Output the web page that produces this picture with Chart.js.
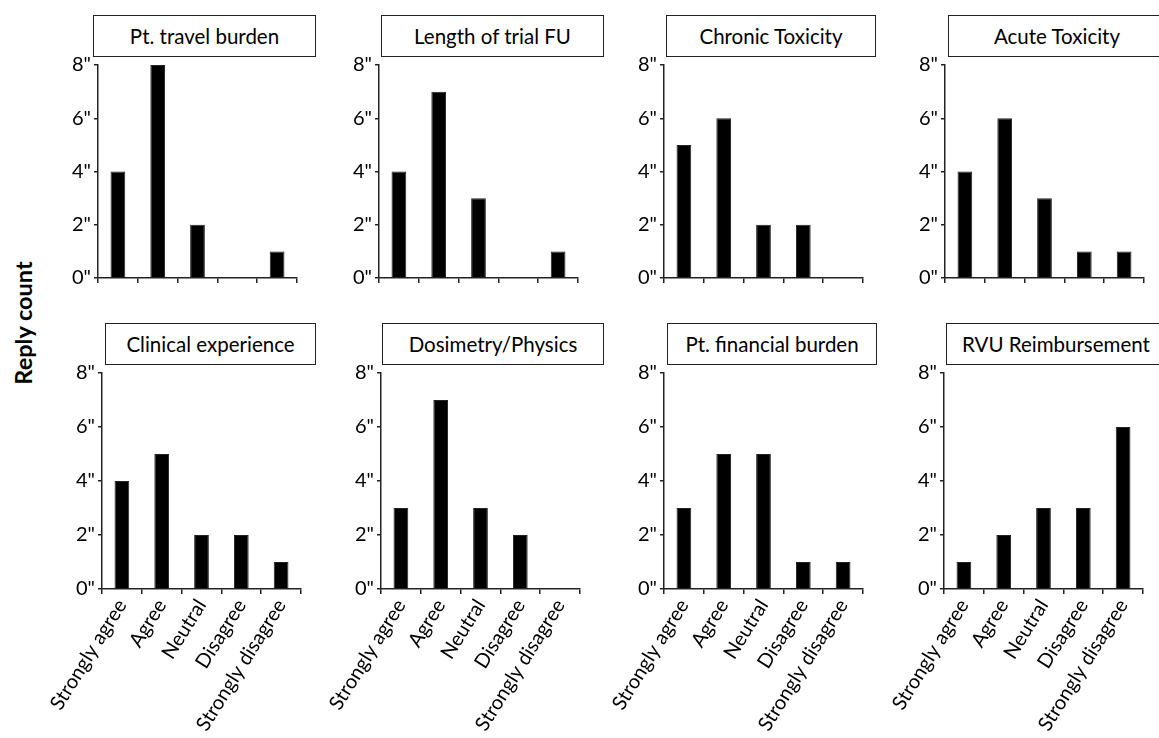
<!DOCTYPE html>
<html>
<head>
<meta charset="utf-8">
<script src="https://cdn.jsdelivr.net/npm/chart.js@4/dist/chart.umd.min.js"></script>
<style>
  html, body { margin: 0; padding: 0; background: #fff; }
  body { width: 1159px; height: 738px; position: relative; overflow: hidden; font-family: Lato, "Open Sans", sans-serif; }
  canvas { position: absolute; }
  .tbox { position: absolute; box-sizing: border-box; border: 1.5px solid #222; background: #fff;
          display: flex; align-items: center; justify-content: center; font-size: 20.5px; color: #000; white-space: nowrap; }
  #ylab { position: absolute; left: 23px; top: 323px; transform: translate(-50%, -50%) rotate(-90deg);
          font-weight: bold; font-size: 23.5px; color: #000; white-space: nowrap; }
</style>
</head>
<body>
<div id="ylab">Reply count</div>
<script>
// ---- data ----
const categories = ["Strongly agree", "Agree", "Neutral", "Disagree", "Strongly disagree"];
const yTicks = [0, 2, 4, 6, 8];
const panelTitles = ["Pt. travel burden", "Length of trial FU", "Chronic Toxicity", "Acute Toxicity",
                     "Clinical experience", "Dosimetry/Physics", "Pt. financial burden", "RVU Reimbursement"];
const travelBurden      = [4, 8, 2, 0, 1];
const trialFollowUp     = [4, 7, 3, 0, 1];
const chronicToxicity   = [5, 6, 2, 2, 0];
const acuteToxicity     = [4, 6, 3, 1, 1];
const clinicalExp       = [4, 5, 2, 2, 1];
const dosimetryPhysics  = [3, 7, 3, 2, 0];
const financialBurden   = [3, 5, 5, 1, 1];
const rvuReimbursement  = [1, 2, 3, 3, 6];
const panelValues = [travelBurden, trialFollowUp, chronicToxicity, acuteToxicity,
                     clinicalExp, dosimetryPhysics, financialBurden, rvuReimbursement];

// ---- layout (positions / styles) ----
const axisX   = [98, 379, 664, 945, 102, 381, 664, 944];
const plotTop = [65, 65, 65, 65, 373, 373, 373, 373];
const boxes = [ [93, 15, 316, 57], [381, 15, 604, 57], [666, 15, 876, 57], [948, 15, 1166, 57],
                [105, 323, 316, 365], [382, 323, 604, 365], [667, 323, 877, 365], [946, 323, 1166, 365] ];
const PLOT_W = 199, PLOT_H = 216, LEFT = 100, PAD = 15;
const FONT = "Lato, 'Open Sans', sans-serif";

panelValues.forEach((vals, i) => {
  const b = boxes[i];
  const div = document.createElement('div');
  div.className = 'tbox';
  div.style.left = b[0] + 'px'; div.style.top = b[1] + 'px';
  div.style.width = (b[2] - b[0]) + 'px'; div.style.height = (b[3] - b[1]) + 'px';
  div.textContent = panelTitles[i];
  document.body.appendChild(div);

  const bottomRow = i >= 4;
  const bottomH = bottomRow ? 160 : 12;
  const cv = document.createElement('canvas');
  const W = LEFT + PLOT_W + PAD, H = PAD + PLOT_H + bottomH;
  cv.width = W; cv.height = H;
  cv.style.left = (axisX[i] - LEFT) + 'px';
  cv.style.top = (plotTop[i] - PAD) + 'px';
  cv.style.width = W + 'px'; cv.style.height = H + 'px';
  document.body.appendChild(cv);

  new Chart(cv.getContext('2d'), {
    type: 'bar',
    data: {
      labels: categories,
      datasets: [{ data: vals, backgroundColor: '#000', borderColor: '#222', borderWidth: 1,
                   barPercentage: 0.37, categoryPercentage: 1.0 }]
    },
    options: {
      responsive: false, animation: false, devicePixelRatio: 1,
      layout: { padding: { top: PAD, right: PAD, left: 0, bottom: 0 } },
      plugins: { legend: { display: false }, title: { display: false }, tooltip: { enabled: false } },
      scales: {
        x: {
          offset: true,
          grid: { offset: true, drawOnChartArea: false, drawTicks: true, tickLength: 5, tickColor: '#222', lineWidth: 1.5 },
          border: { display: true, color: '#222', width: 1.5 },
          ticks: { display: bottomRow, autoSkip: false, minRotation: 58, maxRotation: 58, padding: 1,
                   color: '#000', font: { family: FONT, size: 20 } },
          afterFit: s => { s.height = bottomH; }
        },
        y: {
          min: 0, max: 8,
          afterBuildTicks: s => { s.ticks = yTicks.map(v => ({ value: v })); },
          grid: { drawOnChartArea: false, drawTicks: true, tickLength: 4, tickColor: '#222', lineWidth: 1.5 },
          border: { display: true, color: '#222', width: 1.5 },
          ticks: { padding: 3, color: '#000', font: { family: FONT, size: 20 }, callback: v => v + '"' },
          afterFit: s => { s.width = LEFT; }
        }
      }
    }
  });
});
</script>
</body>
</html>
